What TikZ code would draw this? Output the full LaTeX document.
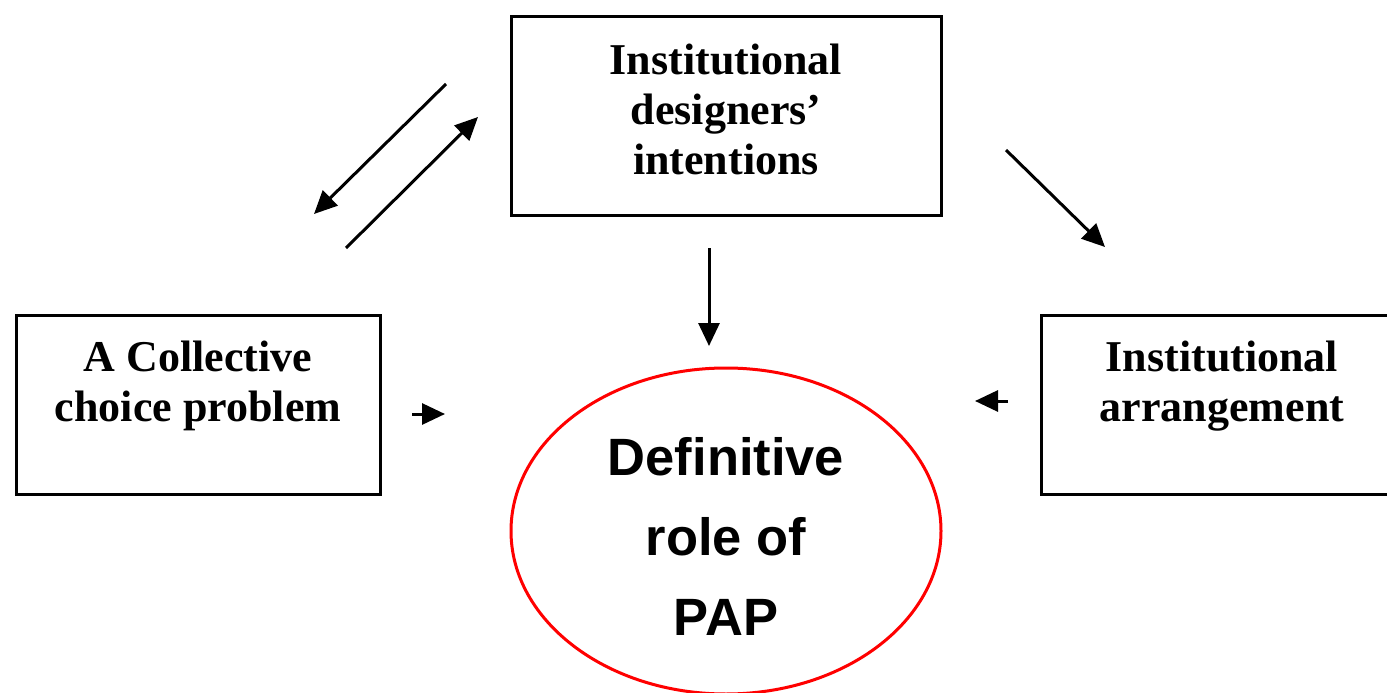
\documentclass[tikz,border=0pt]{standalone}
\usepackage{fontspec}
\setmainfont{Liberation Serif}
\newfontfamily\arialfont{Liberation Sans}
\usetikzlibrary{arrows.meta,shapes.geometric}
\tikzset{
  boxframe/.style={draw=black, line width=3pt, rectangle, inner sep=0pt},
  boxtext/.style={align=center, inner sep=0pt, font=\fontsize{44}{50}\selectfont\bfseries},
  ovaltext/.style={align=center, inner sep=0pt, font=\arialfont\fontsize{52.5}{80}\selectfont\bfseries},
  link/.style={line width=3pt, -{Triangle[length=23pt,width=21pt]}},
}
\begin{document}
\begin{tikzpicture}[x=1pt,y=-1pt]
\clip (0,0) rectangle (1387,693);
\fill[white] (0,0) rectangle (1387,693);
% boxes
\node[boxframe, minimum width=430pt, minimum height=198pt] (top) at (726,116) {};
\node[boxtext] (toptext) at (726,109.5) {Institutional\\designers'\\intentions};
\node[boxframe, minimum width=364pt, minimum height=179pt] (left) at (198,404.5) {};
\node[boxtext] (lefttext) at (198,386) {A Collective\\choice problem};
\node[boxframe, minimum width=380pt, minimum height=179pt, anchor=west] (right) at (1040,404.5) {};
\node[boxtext] (righttext) at (1222,386) {Institutional\\arrangement};
% ellipse
\node[draw=red, line width=3pt, ellipse, minimum width=430pt, minimum height=326pt, inner sep=0pt] (pap) at (726,531) {};
\node[ovaltext] (paptext) at (726,536.5) {Definitive\\role of\\PAP};
% arrow end points
\coordinate (a1s) at (446,84);  \coordinate (a1e) at (314,214);
\coordinate (a2s) at (346,248); \coordinate (a2e) at (478,117);
\coordinate (a3s) at (1006,150); \coordinate (a3e) at (1105,247);
\coordinate (a4s) at (709,248); \coordinate (a4e) at (709,346);
\coordinate (a5s) at (412,414); \coordinate (a5e) at (445,414);
\coordinate (a6s) at (1008,401); \coordinate (a6e) at (975,401);
\draw[link] (a1s) -- (a1e);
\draw[link] (a2s) -- (a2e);
\draw[link] (a3s) -- (a3e);
\draw[link] (a4s) -- (a4e);
\draw[link] (a5s) -- (a5e);
\draw[link] (a6s) -- (a6e);
\end{tikzpicture}
\end{document}
